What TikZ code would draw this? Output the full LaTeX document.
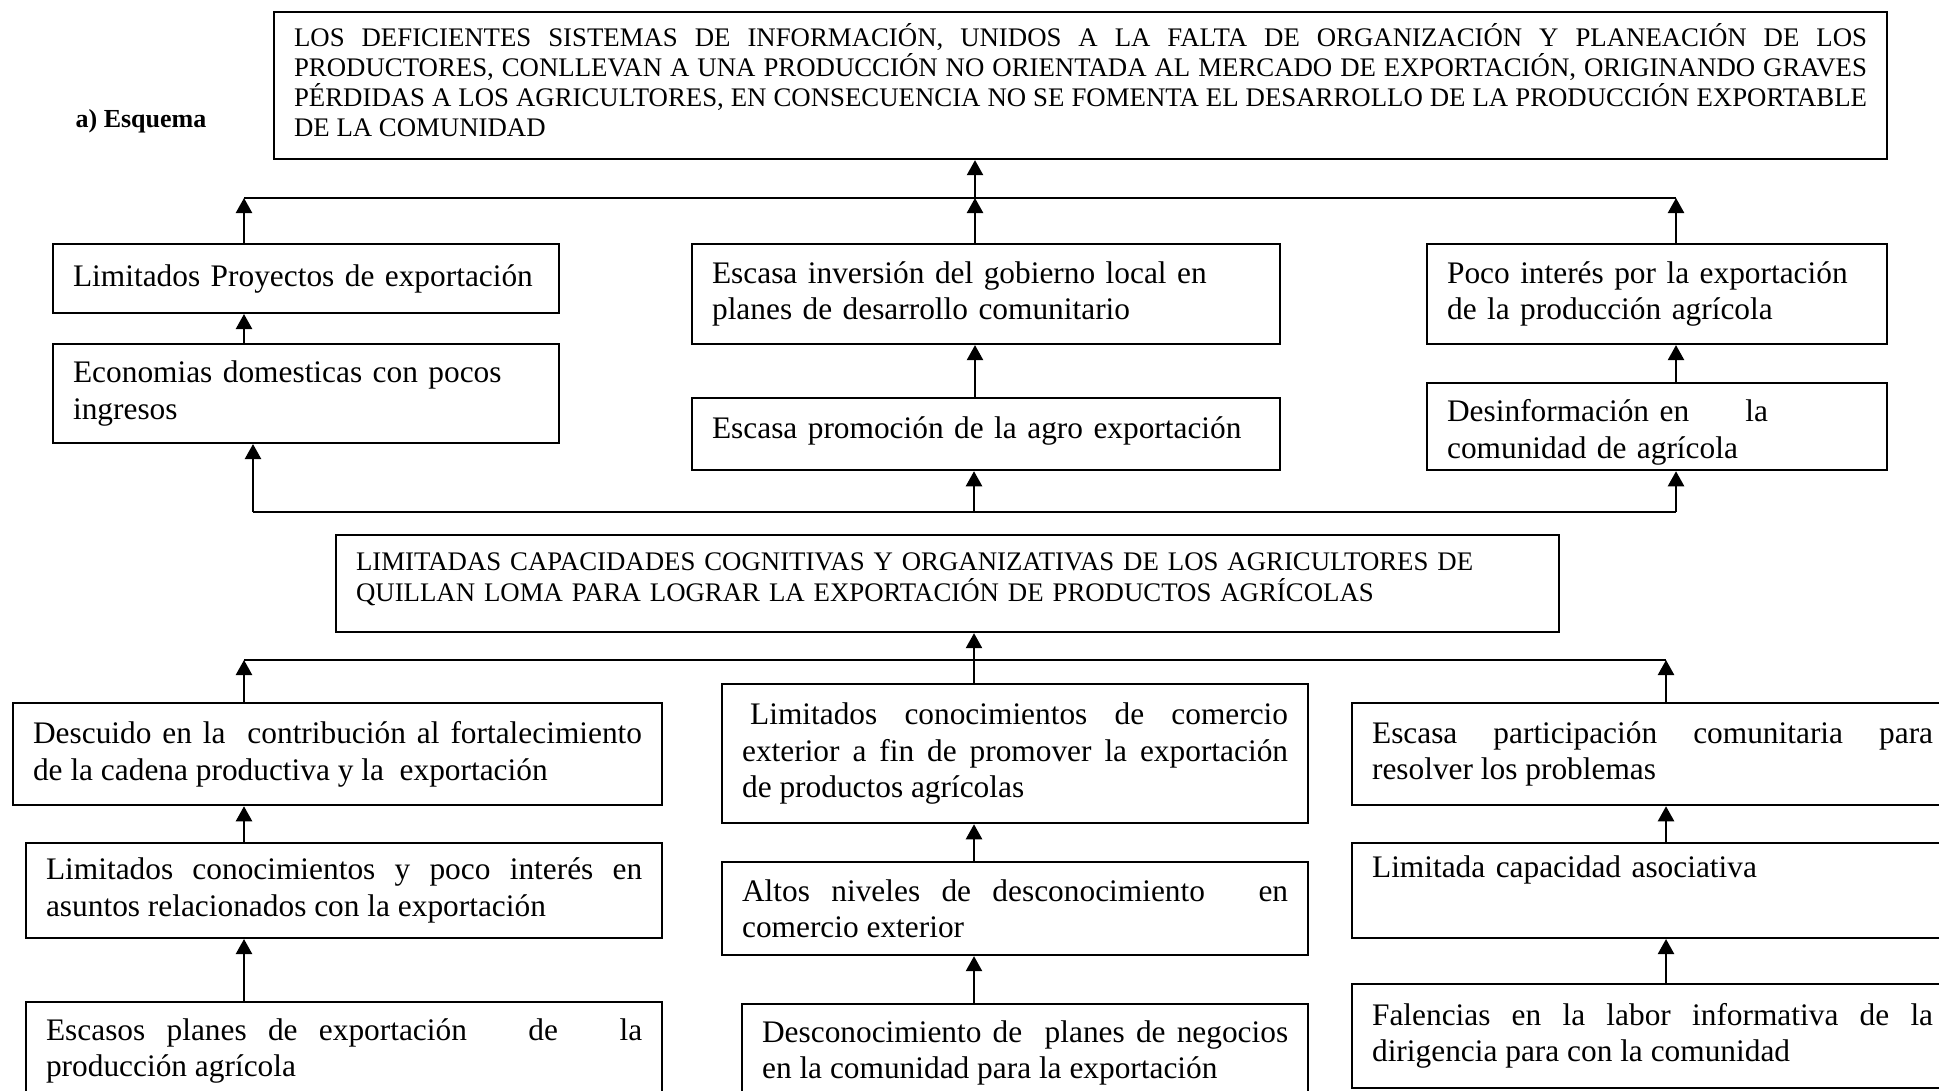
\documentclass[tikz,border=0pt]{standalone}
\usepackage{fontspec}
\setmainfont{Liberation Serif}
\usetikzlibrary{arrows.meta}
\tolerance=9999
\hyphenpenalty=10000

\begin{document}
\begin{tikzpicture}[x=0.3731pt,y=-0.3731pt,line width=0.8pt,
      >={Triangle[width=6pt,length=5.6pt]},
      caja/.style={draw,anchor=north west,inner xsep=7.46pt,inner ysep=0pt,
        font=\fontsize{11.7}{13.6}\selectfont},
      mayus/.style={caja,font=\fontsize{10}{11.2}\selectfont}]
  \useasboundingbox(0,0)rectangle(1939,1091);
  \node(titulo)at(141,121){\fontsize{9.7}{12}\selectfont\bfseries a) Esquema};
  % efectos
  \node[mayus,align=justify,text width=586.9pt,minimum height=54.85pt](efecto)at(273,11)
     {LOS DEFICIENTES SISTEMAS DE INFORMACIÓN, UNIDOS A LA FALTA DE ORGANIZACIÓN Y PLANEACIÓN DE LOS\linebreak
      PRODUCTORES, CONLLEVAN A UNA PRODUCCIÓN NO ORIENTADA AL MERCADO DE EXPORTACIÓN, ORIGINANDO GRAVES\linebreak
      PÉRDIDAS A LOS AGRICULTORES, EN CONSECUENCIA NO SE FOMENTA EL DESARROLLO DE LA PRODUCCIÓN EXPORTABLE\linebreak
      DE LA COMUNIDAD\rule[-4pt]{0pt}{0pt}};
  \node[caja,align=left,text width=173.9pt,minimum height=25.7pt](efA1)at(52,243)
     {\mbox{Limitados Proyectos de exportación}};
  \node[caja,align=left,text width=173.9pt,minimum height=36.9pt](efA2)at(52,343)
     {Economias domesticas con pocos\\ ingresos};
  \node[caja,align=left,text width=204.5pt,minimum height=37.3pt](efB1)at(691,243)
     {Escasa inversión del gobierno local en\\ planes de desarrollo comunitario};
  \node[caja,align=left,text width=204.5pt,minimum height=26.9pt](efB2)at(691,397)
     {\mbox{Escasa promoción de la agro exportación}\rule[-5pt]{0pt}{0pt}};
  \node[caja,align=left,text width=156.7pt,minimum height=37.3pt](efC1)at(1426,243)
     {Poco interés por la exportación\\ de la producción agrícola};
  \node[caja,align=left,text width=156.7pt,minimum height=32.5pt](efC2)at(1426,382)
     {\rule{0pt}{12.4pt}Desinformación en\hspace{21pt}la\\ comunidad de agrícola};
  % problema central
  \node[mayus,align=left,text width=441.4pt,minimum height=36.2pt,
        font=\fontsize{10}{11.6}\selectfont](problema)at(335,534)
     {LIMITADAS CAPACIDADES COGNITIVAS Y ORGANIZATIVAS DE LOS AGRICULTORES DE\\
      QUILLAN LOMA PARA LOGRAR LA EXPORTACIÓN DE PRODUCTOS AGRÍCOLAS\rule[-5pt]{0pt}{0pt}};
  % causas
  \node[caja,align=justify,text width=227.2pt,minimum height=38.1pt](caA1)at(12,702)
     {Descuido en la\ \ contribución al fortalecimiento\linebreak de la cadena productiva y la\ \ exportación};
  \node[caja,align=justify,text width=222.4pt,minimum height=35.4pt](caA2)at(25,842)
     {Limitados conocimientos y poco interés en\linebreak asuntos relacionados con la exportación};
  \node[caja,align=justify,text width=222.4pt,minimum height=36.6pt](caA3)at(25,1001)
     {Escasos planes de exportación\hspace{15pt} de\hspace{15pt} la\linebreak producción agrícola};
  \node[caja,align=justify,text width=203.7pt,minimum height=51.9pt](caB1)at(721,683)
     {\hspace*{3pt}Limitados conocimientos de comercio\linebreak exterior a fin de promover la exportación\linebreak de productos agrícolas};
  \node[caja,align=justify,text width=203.7pt,minimum height=34.7pt](caB2)at(721,861)
     {Altos niveles de desconocimiento\hspace{12pt} en\linebreak comercio exterior};
  \node[caja,align=justify,text width=196.3pt,minimum height=36.6pt](caB3)at(741,1003)
     {Desconocimiento de\ \ planes de negocios\linebreak en la comunidad para la exportación};
  \node[caja,align=justify,text width=209.3pt,minimum height=38.1pt](caC1)at(1351,702)
     {Escasa participación comunitaria para\linebreak resolver los problemas};
  \node[caja,align=left,text width=209.3pt,minimum height=35.4pt](caC2)at(1351,842)
     {Limitada capacidad asociativa\\ \strut};
  \node[caja,align=justify,text width=209.3pt,minimum height=38.8pt](caC3)at(1351,983)
     {Falencias en la labor informativa de la\linebreak dirigencia para con la comunidad};
  % lineas de union
  \coordinate(busEl)at(244,198);
  \coordinate(busEm)at(975,198);
  \coordinate(busEr)at(1676,198);
  \coordinate(busPl)at(253,512);
  \coordinate(busPm)at(974,512);
  \coordinate(busPr)at(1676,512);
  \coordinate(busCl)at(244,660);
  \coordinate(busCm)at(974,660);
  \coordinate(busCr)at(1666,660);
  \draw(busEl)--(busEr);
  \draw[->](efA1.north-|busEl)--(busEl);
  \draw[->](efB1.north-|busEm)--(busEm);
  \draw[->](busEm)--(efecto.south-|busEm);
  \draw[->](efC1.north-|busEr)--(busEr);
  \draw[->](efA2.north-|busEl)--(efA1.south-|busEl);
  \draw[->](efB2.north-|busEm)--(efB1.south-|busEm);
  \draw[->](efC2.north-|busEr)--(efC1.south-|busEr);
  \draw(busPl)--(busPr);
  \draw[->](busPl)--(efA2.south-|busPl);
  \draw[->](busPm)--(efB2.south-|busPm);
  \draw[->](busPr)--(efC2.south-|busPr);
  \draw(busCl)--(busCr);
  \draw[->](caA1.north-|busCl)--(busCl);
  \draw[->](caB1.north-|busCm)--(problema.south-|busCm);
  \draw[->](caC1.north-|busCr)--(busCr);
  \draw[->](caA2.north-|busCl)--(caA1.south-|busCl);
  \draw[->](caA3.north-|busCl)--(caA2.south-|busCl);
  \draw[->](caB2.north-|busCm)--(caB1.south-|busCm);
  \draw[->](caB3.north-|busCm)--(caB2.south-|busCm);
  \draw[->](caC2.north-|busCr)--(caC1.south-|busCr);
  \draw[->](caC3.north-|busCr)--(caC2.south-|busCr);
\end{tikzpicture}
\end{document}
